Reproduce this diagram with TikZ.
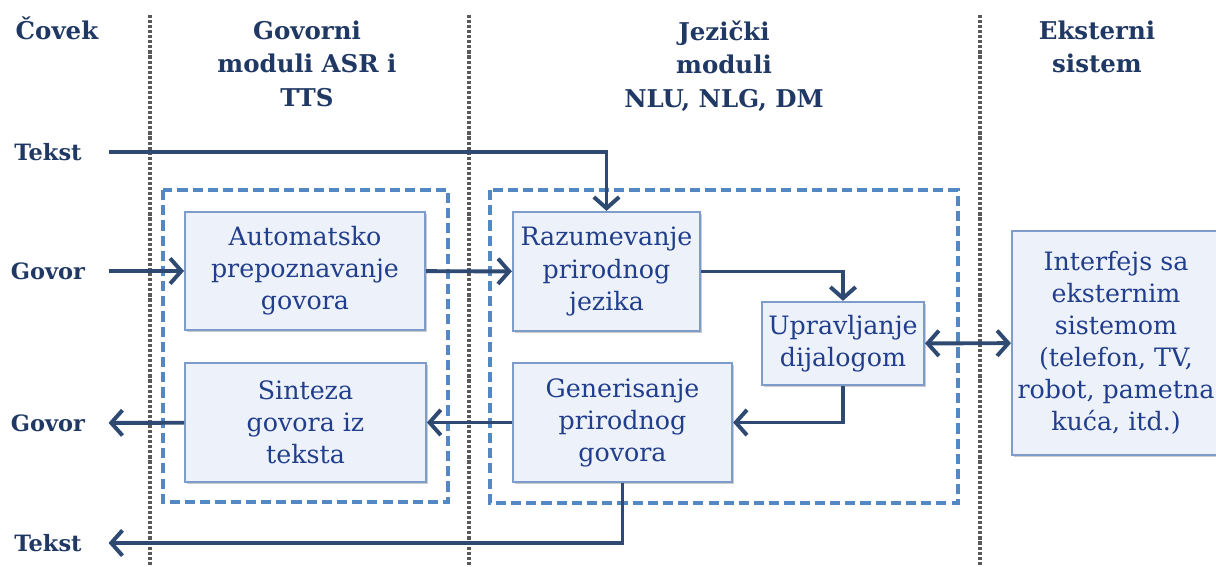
\documentclass[tikz,border=0pt]{standalone}
\usepackage{fontspec}
\setmainfont{DejaVu Serif}
\usetikzlibrary{arrows.meta, shadows}

\definecolor{headblue}{RGB}{31,56,100}
\definecolor{textblue}{RGB}{33,62,140}
\definecolor{linenavy}{RGB}{46,74,115}
\definecolor{boxfill}{RGB}{237,242,250}
\definecolor{boxline}{RGB}{125,156,201}
\definecolor{groupblue}{RGB}{84,136,196}

\begin{document}
\begin{tikzpicture}[x=0.0125cm, y=-0.0125cm,
        % styles
        header/.style = {
                anchor=north, inner sep=0pt, align=center,
                text=headblue, font=\fontsize{8.7}{12}\selectfont\bfseries
            },
        side/.style = {
                inner sep=0pt, minimum width=1.5cm, align=center,
                text=headblue, font=\fontsize{8}{10}\selectfont\bfseries
            },
        module/.style = {
                rectangle, inner sep=0pt, align=center, text centered,
                draw=boxline, fill=boxfill, line width=0.7pt,
                drop shadow={shadow xshift=0.6pt, shadow yshift=-0.6pt, opacity=0.4},
                text=textblue, font=\fontsize{9}{11.4}\selectfont
            },
        group/.style = {
                draw=groupblue, line width=1.2pt, dash pattern=on 3.6pt off 1.8pt
            },
        lane/.style = {
                draw=black!65, line width=1.3pt, dash pattern=on 1.1pt off 0.7pt
            },
        navybarb/.tip = {
                Straight Barb[length=4pt, width=9pt, line width=1.4pt]
            },
        arrow/.style ={
                draw=linenavy, line width=1.4pt, -navybarb
            }]

    \useasboundingbox (0,0) rectangle (1216,567);

    % lanes
    \draw [lane] (150,15) -- (150,567);
    \draw [lane] (469,15) -- (469,567);
    \draw [lane] (980,15) -- (980,567);

    % headers
    \node (h_human) [header] at (57,16) {Čovek};
    \node (h_speech) [header] at (307,20) {Govorni\\moduli ASR i\\TTS};
    \node (h_lang) [header] at (724,20) {Jezički\\moduli\\NLU, NLG, DM};
    \node (h_ext) [header] at (1097,20) {Eksterni\\sistem};

    % groups
    \draw [group] (163,190) rectangle (448,502);
    \draw [group] (490,190) rectangle (958,503);

    % modules
    \node (asr) [module, minimum width=3cm, minimum height=1.475cm] at (305,271) {Automatsko\\prepoznavanje\\govora};
    \node (tts) [module, minimum width=3.01cm, minimum height=1.49cm] at (305.5,422.5) {Sinteza\\govora iz\\teksta};
    \node (nlu) [module, minimum width=2.34cm, minimum height=1.49cm] at (606.5,271.5) {Razumevanje\\prirodnog\\jezika};
    \node (dm) [module, minimum width=2.025cm, minimum height=1.04cm] at (843,343.5) {Upravljanje\\dijalogom};
    \node (nlg) [module, minimum width=2.74cm, minimum height=1.49cm] at (622.5,422.5) {Generisanje\\prirodnog\\govora};
    \node (ext) [module, minimum width=2.6cm, minimum height=2.8cm] at (1116,343) {Interfejs sa\\eksternim\\sistemom\\(telefon, TV,\\robot, pametna\\kuća, itd.)};

    % human side
    \node (text_in) [side] at (48,152) {Tekst};
    \node (speech_in) [side] at (48,271) {Govor};
    \node (speech_out) [side] at (48,423) {Govor};
    \node (text_out) [side] at (48,543) {Tekst};

    % arrows
    \draw [arrow] (text_in.east) -| (nlu.north);
    \draw [arrow] (speech_in) -- (asr);
    \draw [arrow] (asr) -- (nlu);
    \draw [arrow] (nlu.east) -| (dm.north);
    \draw [arrow, navybarb-navybarb] (dm) -- (ext);
    \draw [arrow] (dm.south) |- (nlg.east);
    \draw [arrow] (nlg) -- (tts);
    \draw [arrow] (tts) -- (speech_out);
    \draw [arrow] (nlg.south) |- (text_out.east);
\end{tikzpicture}
\end{document}
